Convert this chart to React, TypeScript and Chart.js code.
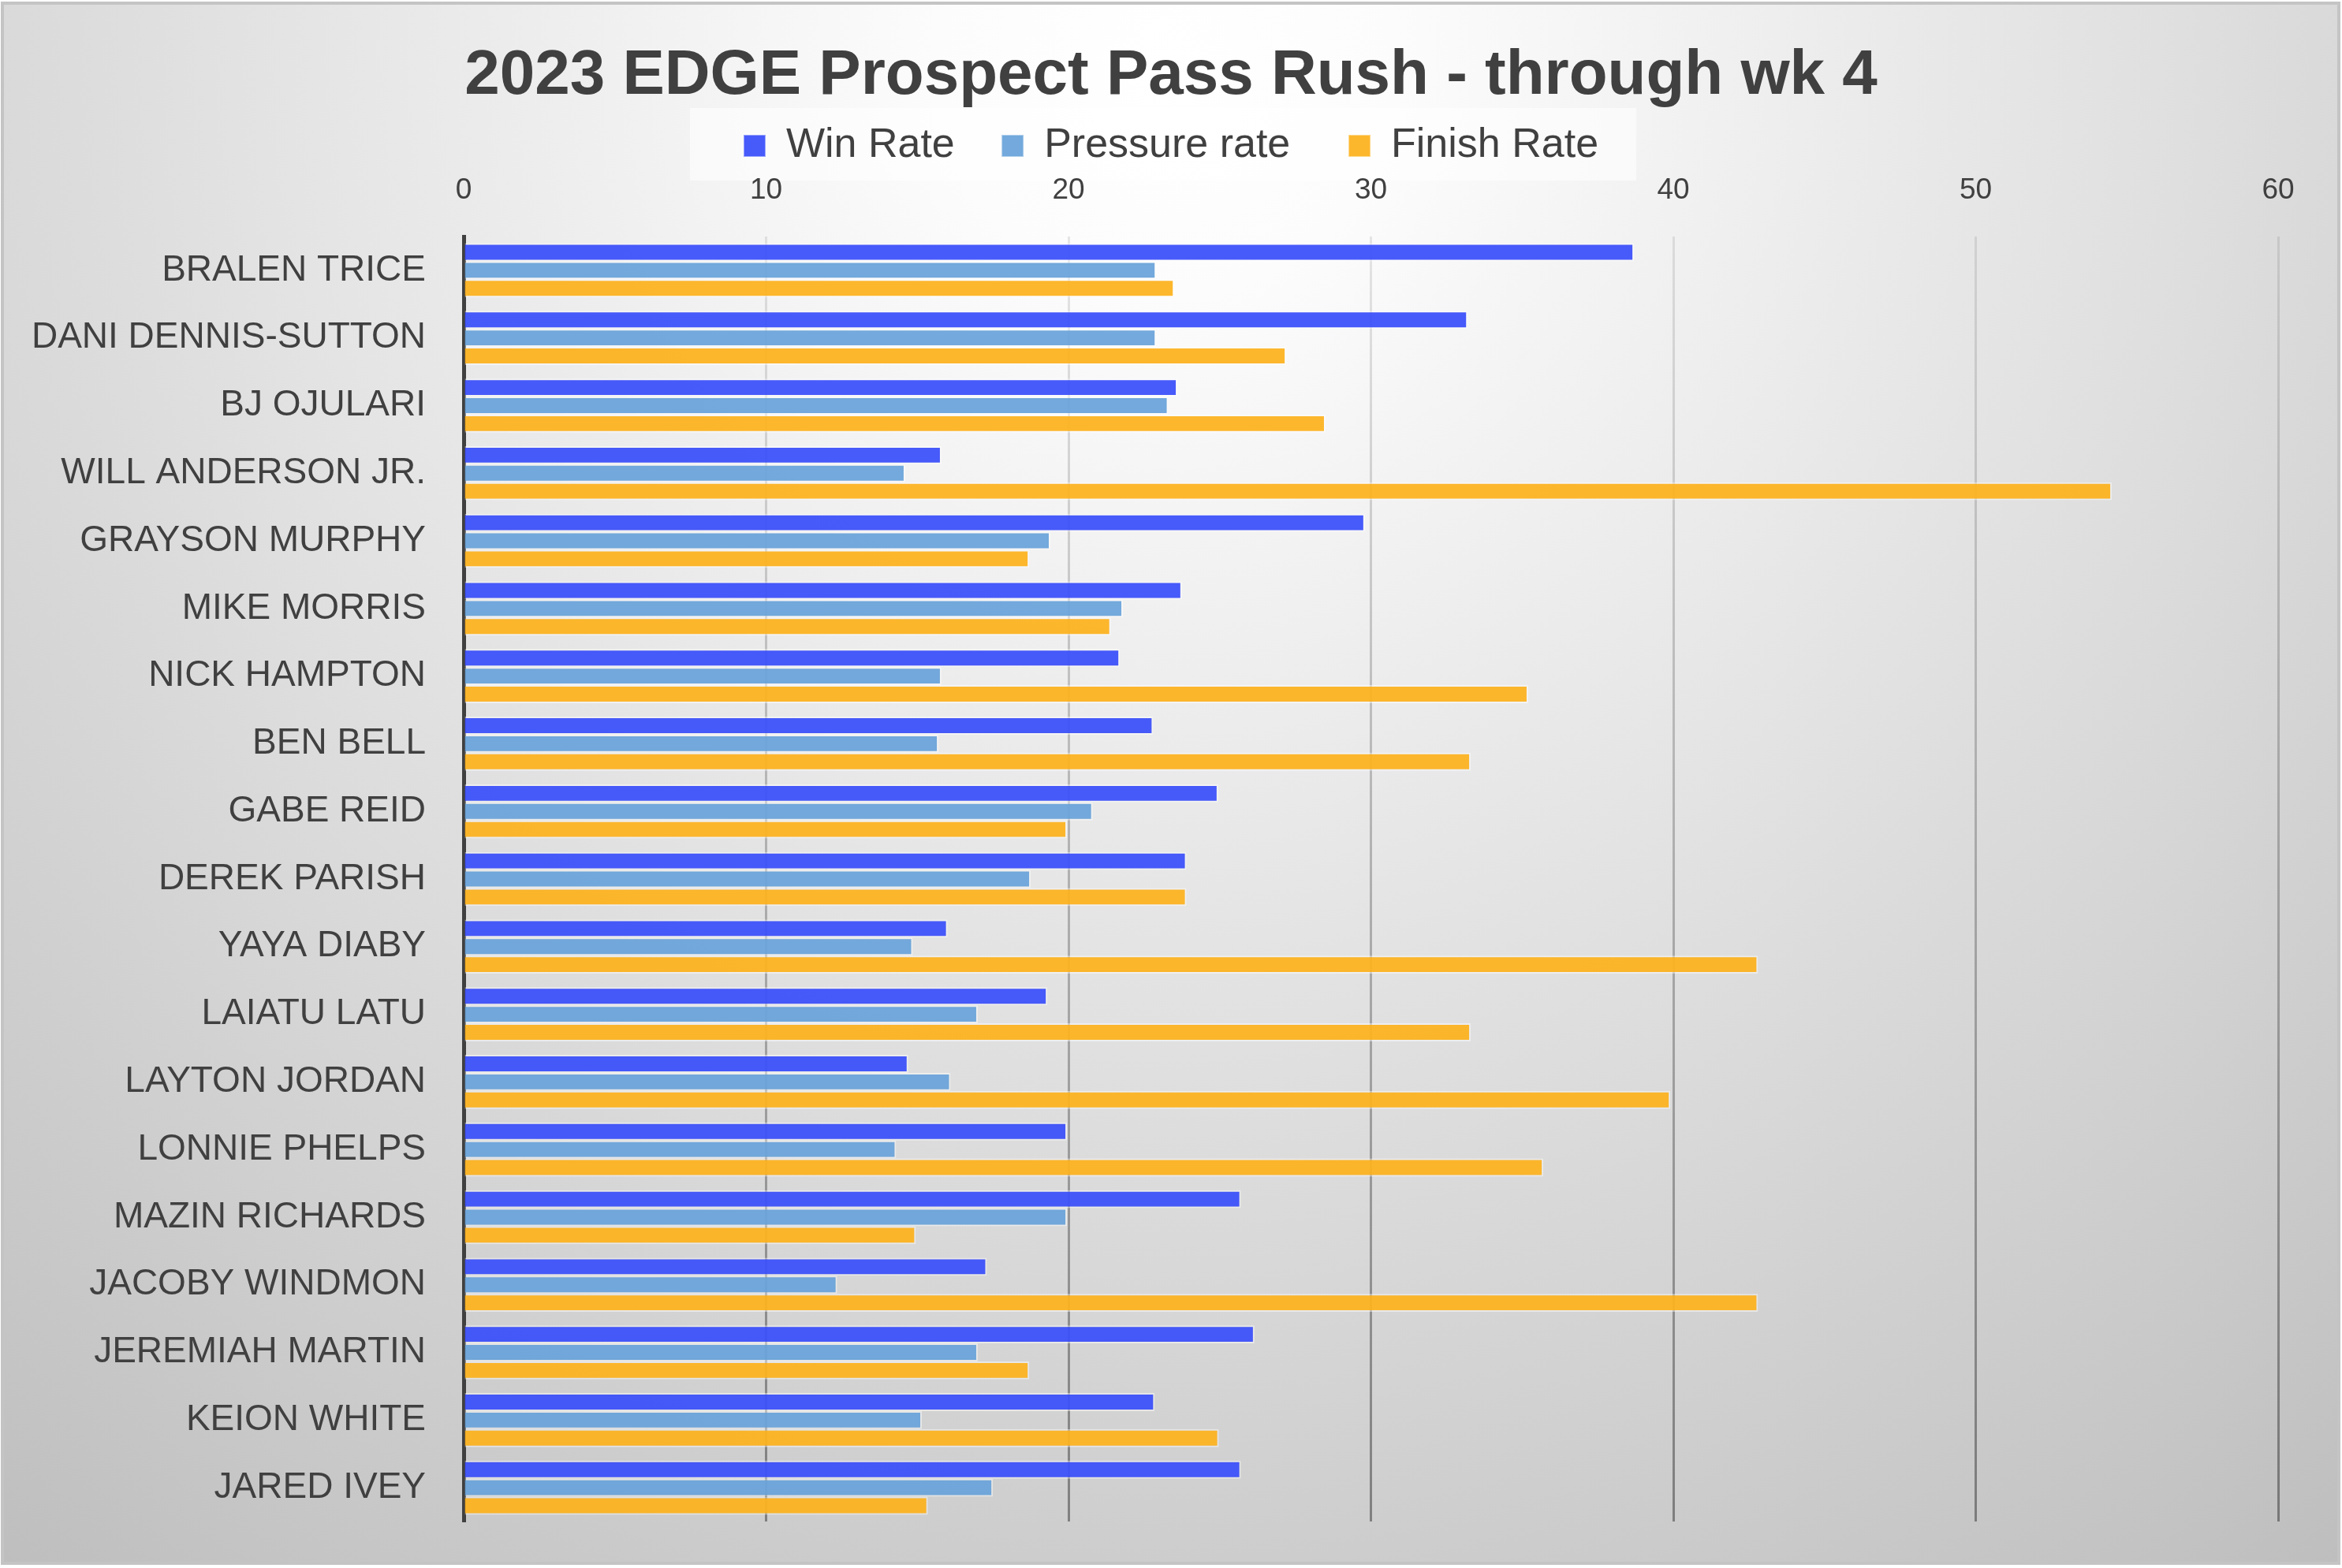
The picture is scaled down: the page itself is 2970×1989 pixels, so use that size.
import React, { useEffect, useRef } from "react";
import { Chart, registerables } from "chart.js";

Chart.register(...registerables);

const players = [
  "BRALEN TRICE",
  "DANI DENNIS-SUTTON",
  "BJ OJULARI",
  "WILL ANDERSON JR.",
  "GRAYSON MURPHY",
  "MIKE MORRIS",
  "NICK HAMPTON",
  "BEN BELL",
  "GABE REID",
  "DEREK PARISH",
  "YAYA DIABY",
  "LAIATU LATU",
  "LAYTON JORDAN",
  "LONNIE PHELPS",
  "MAZIN RICHARDS",
  "JACOBY WINDMON",
  "JEREMIAH MARTIN",
  "KEION WHITE",
  "JARED IVEY",
];

const winRate = [38.7, 33.2, 23.6, 15.8, 29.8, 23.75, 21.7, 22.8, 24.95, 23.9, 16.0, 19.3, 14.7, 19.95, 25.7, 17.3, 26.15, 22.85, 25.7];
const pressureRate = [22.9, 22.9, 23.3, 14.6, 19.4, 21.8, 15.8, 15.7, 20.8, 18.75, 14.85, 17.0, 16.1, 14.3, 19.95, 12.35, 17.0, 15.15, 17.5];
const finishRate = [23.5, 27.2, 28.5, 54.5, 18.7, 21.4, 35.2, 33.3, 19.95, 23.9, 42.8, 33.3, 39.9, 35.7, 14.95, 42.8, 18.7, 24.97, 15.35];

const seriesNames = ["Win Rate", "Pressure rate", "Finish Rate"];
const xMin = 0;
const xMax = 60;
const xStep = 10;
const titleText = "2023 EDGE Prospect Pass Rush - through wk 4";

const FONT = "'Liberation Sans', Arial, Helvetica, sans-serif";
const TEXT = "#404040";

const bgPlugin = {
  id: "bgPlugin",
  beforeDraw(chart: any) {
    const { ctx, width, height } = chart;
    ctx.save();
    ctx.fillStyle = "#ffffff";
    ctx.fillRect(0, 0, width, height);
    const g = ctx.createRadialGradient(1480, 80, 0, 1480, 80, 2450);
    g.addColorStop(0, "#ffffff");
    g.addColorStop(0.12, "#fcfcfc");
    g.addColorStop(1, "#bdbdbd");
    ctx.fillStyle = g;
    ctx.fillRect(3, 4, width - 7, height - 10);
    ctx.strokeStyle = "#c4c4c4";
    ctx.lineWidth = 4;
    ctx.strokeRect(3, 4, width - 7, height - 10);
    const lg = chart.legend;
    if (lg && lg.legendHitBoxes && lg.legendHitBoxes.length) {
      const hb = lg.legendHitBoxes;
      const l = hb[0].left - 68;
      const last = hb[hb.length - 1];
      const r = last.left + last.width + 48;
      ctx.fillStyle = "rgba(255,255,255,0.55)";
      ctx.fillRect(l, lg.top - 6, r - l, lg.height + 14);
    }
    ctx.restore();
  },
};

const legendPad = ["   ", "    ", ""];

export default function App() {
  const canvasRef = useRef<HTMLCanvasElement | null>(null);

  useEffect(() => {
    const canvas = canvasRef.current;
    if (!canvas) return;
    const gridColor = (c: any) => {
      const ch = c.chart;
      const a = ch.chartArea;
      if (!a) return "rgba(0,0,0,0.2)";
      const g = ch.ctx.createLinearGradient(0, a.top, 0, a.bottom);
      g.addColorStop(0, "rgba(0,0,0,0.09)");
      g.addColorStop(1, "rgba(0,0,0,0.38)");
      return g;
    };
    const chart = new Chart(canvas, {
      type: "bar",
      data: {
        labels: players,
        datasets: [
          {
            label: seriesNames[0],
            data: winRate,
            backgroundColor: "rgba(60,80,250,0.94)",
            borderColor: "rgba(255,255,255,0.45)",
            borderWidth: 2,
          },
          {
            label: seriesNames[1],
            data: pressureRate,
            backgroundColor: "rgba(106,164,218,0.94)",
            borderColor: "rgba(255,255,255,0.45)",
            borderWidth: 2,
          },
          {
            label: seriesNames[2],
            data: finishRate,
            backgroundColor: "rgba(253,178,32,0.94)",
            borderColor: "rgba(255,255,255,0.45)",
            borderWidth: 2,
          },
        ],
      },
      options: {
        indexAxis: "y",
        responsive: false,
        animation: false,
        devicePixelRatio: 1,
        layout: { padding: { top: 20, right: 0, bottom: 59, left: 0 } },
        datasets: {
          bar: { categoryPercentage: 0.8, barPercentage: 1.0 },
        },
        scales: {
          x: {
            type: "linear",
            position: "top",
            min: xMin,
            max: xMax,
            ticks: {
              stepSize: xStep,
              color: TEXT,
              font: { family: FONT, size: 37 },
              padding: 36,
            },
            grid: {
              color: gridColor,
              lineWidth: 3,
              drawTicks: false,
            },
            border: { display: false },
            afterFit: (s: any) => {
              s.height = 79;
              s.paddingLeft = 0;
              s.paddingRight = 81;
            },
          },
          y: {
            type: "category",
            z: 1,
            ticks: {
              color: TEXT,
              font: { family: FONT, size: 46 },
              padding: 48,
            },
            grid: { display: false, drawTicks: false },
            border: { display: true, color: "#404040", width: 5 },
            afterFit: (s: any) => {
              s.width = 588;
              s.paddingTop = 0;
              s.paddingBottom = 0;
            },
          },
        },
        plugins: {
          title: {
            display: true,
            text: titleText,
            color: TEXT,
            font: { family: FONT, size: 80, weight: "bold", lineHeight: 1.2 },
            padding: { top: 29, bottom: -2 },
          },
          legend: {
            display: true,
            position: "top",
            labels: {
              color: TEXT,
              font: { family: FONT, size: 52 },
              boxWidth: 28,
              boxHeight: 28,
              padding: 16,
              generateLabels: (ch: any) => {
                const items = (Chart.defaults.plugins.legend.labels as any).generateLabels(ch);
                return items.map((it: any, i: number) => ({ ...it, text: it.text + (legendPad[i] || "") }));
              },
            },
          },
          tooltip: { enabled: false },
        },
      },
      plugins: [bgPlugin],
    } as any);
    return () => chart.destroy();
  }, []);

  return (
    <div style={{ position: "absolute", left: 0, top: 0, width: 2970, height: 1989 }}>
      <canvas ref={canvasRef} width={2970} height={1989} style={{ display: "block", width: 2970, height: 1989 }} />
    </div>
  );
}
